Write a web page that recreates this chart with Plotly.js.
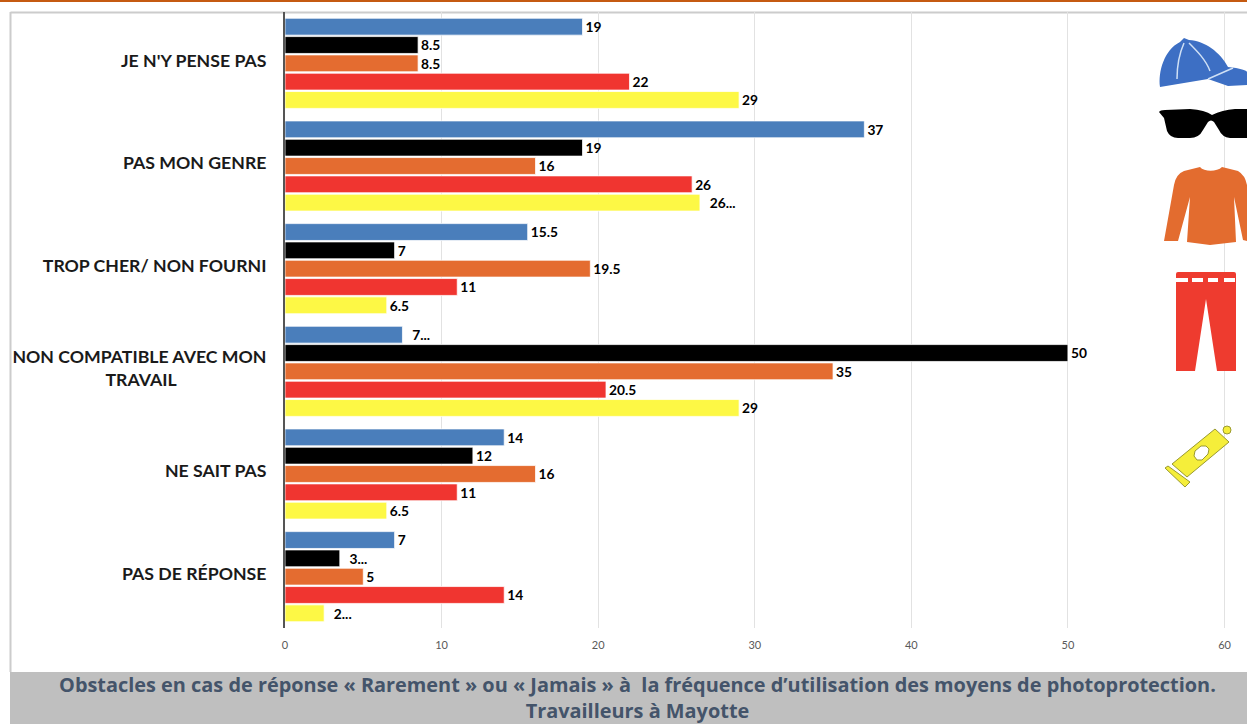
<!DOCTYPE html>
<html>
<head>
<meta charset="utf-8">
<script src="https://cdn.plot.ly/plotly-3.0.1.min.js"></script>
<style>html,body{margin:0;padding:0;background:#fff;overflow:hidden}#c{width:1247px;height:724px}</style>
</head>
<body>
<div id="c"></div>
<script>
var categories = ["JE N'Y PENSE PAS", "PAS MON GENRE", "TROP CHER/ NON FOURNI", "NON COMPATIBLE AVEC MON<br>TRAVAIL\u00a0\u00a0\u00a0\u00a0\u00a0\u00a0\u00a0\u00a0\u00a0\u00a0\u00a0\u00a0\u00a0\u00a0\u00a0\u00a0\u00a0\u00a0\u00a0\u00a0\u00a0", "NE SAIT PAS", "PAS DE RÉPONSE"];
var casquette = [19, 37, 15.5, 7.5, 14, 7];
var lunettes = [8.5, 19, 7, 50, 12, 3.5];
var manches = [8.5, 16, 19.5, 35, 16, 5];
var pantalon = [22, 26, 11, 20.5, 11, 14];
var creme = [29, 26.5, 6.5, 29, 6.5, 2.5];
var casquetteText = ["19", "37", "15.5", "\u00a0\u00a07...", "14", "7"];
var lunettesText = ["8.5", "19", "7", "50", "12", "\u00a0\u00a03..."];
var manchesText = ["8.5", "16", "19.5", "35", "16", "5"];
var pantalonText = ["22", "26", "11", "20.5", "11", "14"];
var cremeText = ["29", "\u00a0\u00a026...", "6.5", "29", "6.5", "\u00a0\u00a02..."];
var seriesNames = ["Casquette", "Lunettes", "Manches longues", "Pantalon", "Crème solaire"];
var seriesColors = ["#4a7ebb", "#000000", "#e46c30", "#f03530", "#fdf845"];
var xTicks = [0, 10, 20, 30, 40, 50, 60];
var titleText = "Obstacles en cas de réponse « Rarement » ou « Jamais » à  la fréquence d’utilisation des moyens de photoprotection.<br>Travailleurs à Mayotte";

var W = 1247, H = 724, L = 285, T = 12, B = 628;
function px(x) { return (x - L) / (W - L); }
function py(y) { return (B - y) / (B - T); }

var values = [casquette, lunettes, manches, pantalon, creme];
var labels = [casquetteText, lunettesText, manchesText, pantalonText, cremeText];
var traces = values.map(function (v, i) {
  return {
    type: 'bar', orientation: 'h', name: seriesNames[i],
    x: v, y: categories, text: labels[i], textposition: 'outside', cliponaxis: false,
    textfont: {family: 'Lato', size: 18, color: '#000', weight: 700},
    marker: {color: seriesColors[i], line: {color: 'rgba(255,255,255,0.75)', width: 1}},
    hoverinfo: 'x+y'
  };
});

var icons = '<svg xmlns="http://www.w3.org/2000/svg" width="97" height="480" viewBox="1150 20 97 480">' +
  '<path d="M1160 87C1158 72 1164 50 1180 42L1184 38L1189 40C1205 41 1220 52 1228 67L1236 68C1242 69 1247 71 1247 72V85L1228 86L1208 79Z" fill="#3d6fc4"/>' +
  '<path d="M1177 79C1177 65 1180 52 1184 43M1189 43C1197 51 1206 60 1210 71M1208 79L1233 68" stroke="#cfe0f5" stroke-width="1.5" fill="none"/>' +
  '<path d="M1159 112Q1160 110 1165 110L1190 109Q1205 110 1212 115Q1222 110 1235 109L1247 109V138H1230Q1222 137 1219 130L1214 122Q1211 119 1208 122L1203 130Q1199 138 1190 138H1178Q1170 138 1167 131L1164 118Z" fill="#000"/>' +
  '<path d="M1200 167C1204 172 1217 172 1222 167L1238 171Q1245 175 1247 185V241L1243 240L1234 197L1236 242L1210 245L1187 242L1190 197L1178 241H1164L1174 185Q1176 174 1184 171Z" fill="#e36c2f"/>' +
  '<path d="M1176 274Q1176 272 1178 272H1234Q1236 272 1236 274V283H1176Z M1176 283H1236V371H1217L1206 299L1195 371H1176Z" fill="#ee3b2f"/>' +
  '<path d="M1176 278H1188V282H1176Z M1192 278H1203V282H1192Z M1208 278H1218V282H1208Z M1224 278H1235V282H1224Z" fill="#fff"/>' +
  '<g fill="#f5ee3a" stroke="#9a9a30" stroke-width="1"><path d="M1172 464L1215 429L1229 442L1187 477Z"/><path d="M1165 468L1168 466L1190 482L1185 487Z"/><circle cx="1227" cy="430" r="4"/></g>' +
  '<path d="M1195 451L1201 446H1206L1209 449L1208 454L1202 460H1197L1194 456Z" fill="#fff" stroke="#9a9a30"/>' +
  '</svg>';

var layout = {
  width: W, height: H, autosize: false, showlegend: false,
  paper_bgcolor: '#fff', plot_bgcolor: 'rgba(0,0,0,0)',
  margin: {l: L, r: 0, t: T, b: H - B, pad: 0},
  barmode: 'group', bargap: 0.108, bargroupgap: 0.08,
  font: {family: 'Lato'},
  title: {text: titleText, font: {family: 'Open Sans', size: 19.9, color: '#44546a', weight: 700}, xref: 'paper', yref: 'container', x: 0.3664, xanchor: 'center', y: 0.0445, yanchor: 'middle'},
  xaxis: {range: [0, (W - L) / (1224.5 - L) * 60], tickmode: 'array', tickvals: xTicks, ticktext: xTicks.map(String),
    showgrid: true, gridcolor: '#e2e2e2', gridwidth: 1, zeroline: false, showline: false, ticks: '',
    tickfont: {family: 'Lato', size: 11, color: '#595959'}, ticklabelstandoff: 9},
  yaxis: {autorange: 'reversed', type: 'category', tickfont: {family: 'Lato', size: 17.7, color: '#1a1a1a', weight: 700},
    showline: true, linecolor: '#555', linewidth: 2, showgrid: false, zeroline: false, ticks: '', ticklabelstandoff: 13, ticklabelshift: 3},
  shapes: [
    {type: 'rect', xref: 'paper', yref: 'paper', layer: 'below', x0: px(0), x1: px(W), y0: py(0), y1: py(2), fillcolor: '#c55a11', line: {width: 0}},
    {type: 'line', xref: 'paper', yref: 'paper', layer: 'below', x0: px(10.5), x1: px(W), y0: py(12.5), y1: py(12.5), line: {color: '#cccccc', width: 2}},
    {type: 'line', xref: 'paper', yref: 'paper', layer: 'below', x0: px(10.5), x1: px(10.5), y0: py(12), y1: py(672), line: {color: '#cccccc', width: 2}},
    {type: 'rect', xref: 'paper', yref: 'paper', layer: 'below', x0: px(10), x1: px(W), y0: py(672), y1: py(H), fillcolor: '#bfbfbf', line: {width: 0}}
  ],
  images: [{source: 'data:image/svg+xml;charset=utf-8,' + encodeURIComponent(icons), xref: 'paper', yref: 'paper',
    x: px(1150), y: py(20), sizex: 97 / (W - L), sizey: 480 / (B - T), sizing: 'stretch', xanchor: 'left', yanchor: 'top', layer: 'above'}]
};
Plotly.newPlot('c', traces, layout, {displayModeBar: false, staticPlot: true});
</script>
</body>
</html>
